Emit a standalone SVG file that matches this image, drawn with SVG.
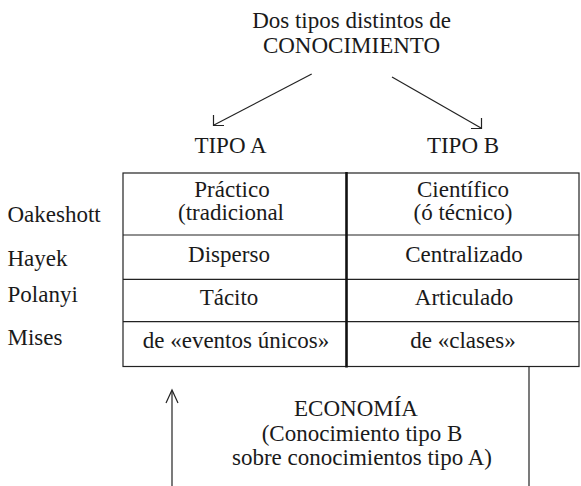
<svg xmlns="http://www.w3.org/2000/svg" width="581" height="486" viewBox="0 0 581 486">
<style>
text{font-family:"Liberation Serif","Times New Roman",serif;font-size:23px;fill:#1a1a1a;text-anchor:middle}
.l{text-anchor:start}
.ln{stroke:#222;stroke-width:1.2;fill:none}
.mid{stroke:#111;stroke-width:2.6;fill:none}
</style>
<rect width="581" height="486" fill="#fff"/>
<g id="titulo">
<text x="351.5" y="27.5">Dos tipos distintos de</text>
<text x="351.5" y="53">CONOCIMIENTO</text>
</g>
<g id="tipoA"><text x="230.5" y="152.5">TIPO A</text></g>
<g id="tipoB"><text x="463" y="152.5">TIPO B</text></g>
<g id="autores">
<text class="l" x="7.5" y="221.5">Oakeshott</text>
<text class="l" x="7.5" y="266">Hayek</text>
<text class="l" x="7.5" y="302">Polanyi</text>
<text class="l" x="7.5" y="345">Mises</text>
</g>
<g id="tabla">
<rect class="ln" x="123" y="173" width="456" height="193.5"/>
<line class="ln" x1="123" y1="235" x2="579" y2="235"/>
<line class="ln" x1="123" y1="279.3" x2="579" y2="279.3"/>
<line class="ln" x1="123" y1="321.7" x2="579" y2="321.7"/>
<line class="mid" x1="346.5" y1="172" x2="346.5" y2="367.5"/>
</g>
<g id="colA">
<text x="232" y="196.5">Práctico</text>
<text x="231" y="220">(tradicional</text>
<text x="229" y="262">Disperso</text>
<text x="229" y="305">Tácito</text>
<text x="236" y="347.5">de «eventos únicos»</text>
</g>
<g id="colB">
<text x="463" y="196.5">Científico</text>
<text x="463" y="220">(ó técnico)</text>
<text x="464" y="262">Centralizado</text>
<text x="464" y="305">Articulado</text>
<text x="463" y="347.5">de «clases»</text>
</g>
<g id="economia">
<text x="356" y="416">ECONOMÍA</text>
<text x="362" y="440.5">(Conocimiento tipo B</text>
<text x="362" y="465">sobre conocimientos tipo A)</text>
</g>
<g id="conectores">
<line class="ln" x1="311.7" y1="74" x2="214" y2="125"/>
<polyline class="ln" points="213.5,115 213.5,125.5 224,125.5"/>
<line class="ln" x1="392" y1="77" x2="481" y2="128"/>
<polyline class="ln" points="481.5,118 481.5,128.5 471,128.5"/>
<line class="ln" x1="529" y1="367" x2="529" y2="486"/>
<line class="ln" x1="172" y1="391" x2="172" y2="486"/>
<polyline class="ln" points="166,403 172,390 178,403"/>
</g>
</svg>
